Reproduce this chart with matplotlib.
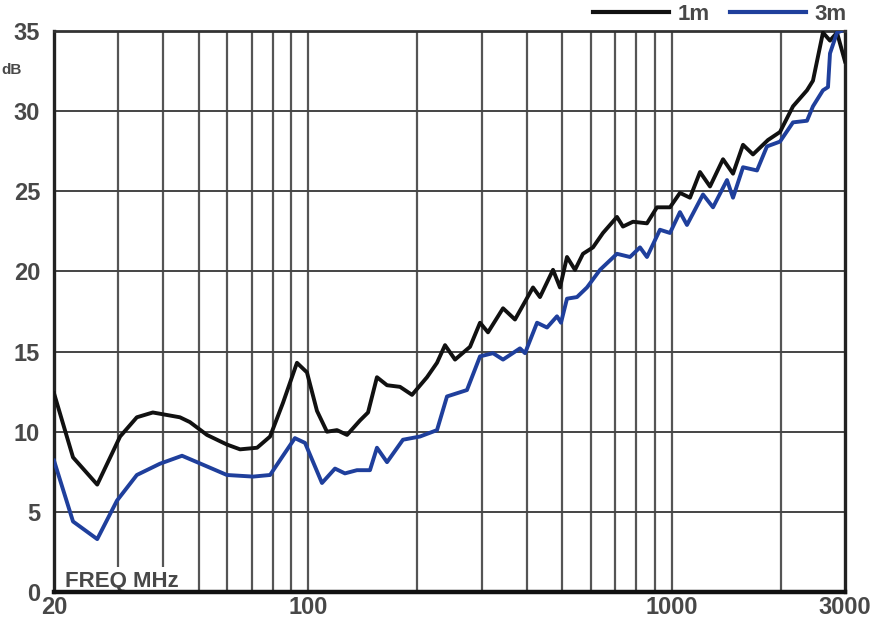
import matplotlib
matplotlib.use("Agg")
import matplotlib.pyplot as plt
from matplotlib.ticker import FixedLocator, NullLocator

plt.rcParams["font.family"] = ["Liberation Sans", "DejaVu Sans"]

# 1 m curve (frequency in MHz, level in dB)
freq_1m = [20.0, 22.56, 26.3, 30.4, 33.8, 37.4, 44.4, 47.3, 52.7, 59.8,
           65.0, 72.4, 78.6, 85.3, 93.2, 99.3, 105.8, 112.7, 120.1, 128.0,
           138.9, 146.2, 154.7, 164.9, 179.0, 193.2, 212.4, 226.3, 238.1, 253.7,
           279.0, 297.2, 312.6, 343.8, 370.9, 415.7, 434.5, 471.9, 493.2, 515.6,
           542.4, 570.5, 607.8, 647.6, 707.6, 735.0, 783.1, 855.7, 911.6, 990.0,
           1054.6, 1123.8, 1197.3, 1275.6, 1385.2, 1475.8, 1572.4, 1674.9, 1842.0, 1987.5,
           2158.0, 2358.0, 2449.0, 2609.0, 2727.9, 2851.6, 3000.0]
level_1m = [12.4, 8.4, 6.7, 9.7, 10.9, 11.2, 10.9, 10.6, 9.8, 9.2,
            8.9, 9.0, 9.7, 11.8, 14.3, 13.7, 11.3, 10.0, 10.1, 9.8,
            10.7, 11.2, 13.4, 12.9, 12.8, 12.3, 13.4, 14.3, 15.4, 14.5,
            15.3, 16.8, 16.2, 17.7, 17.0, 19.0, 18.4, 20.1, 19.0, 20.9,
            20.1, 21.1, 21.5, 22.4, 23.4, 22.8, 23.1, 23.0, 24.0, 24.0,
            24.9, 24.6, 26.2, 25.3, 27.0, 26.1, 27.9, 27.3, 28.2, 28.7,
            30.3, 31.3, 31.9, 34.9, 34.4, 34.9, 33.1]

# 3 m curve
freq_3m = [20.0, 22.56, 26.3, 29.8, 33.8, 39.1, 45.0, 49.5, 59.8, 70.6,
           78.6, 85.3, 92.0, 98.1, 109.2, 118.6, 126.3, 136.3, 148.0, 154.7,
           164.9, 182.4, 203.2, 226.3, 241.1, 273.6, 297.2, 322.7, 343.8, 382.8,
           395.2, 426.5, 454.3, 483.9, 496.4, 515.6, 549.3, 585.2, 635.5, 707.6,
           768.5, 818.7, 855.7, 929.1, 990.0, 1054.6, 1102.5, 1220.3, 1300.2, 1420.6,
           1475.8, 1572.4, 1718.0, 1830.0, 1987.5, 2158.0, 2358.0, 2449.0, 2609.0, 2693.7,
           2727.9, 2851.6, 2925.0]
level_3m = [8.2, 4.4, 3.3, 5.7, 7.3, 8.0, 8.5, 8.1, 7.3, 7.2,
            7.3, 8.5, 9.6, 9.3, 6.8, 7.7, 7.4, 7.6, 7.6, 9.0,
            8.1, 9.5, 9.7, 10.1, 12.2, 12.6, 14.7, 14.9, 14.5, 15.2,
            14.9, 16.8, 16.5, 17.2, 16.8, 18.3, 18.4, 19.0, 20.1, 21.1,
            20.9, 21.5, 20.9, 22.6, 22.4, 23.7, 22.9, 24.8, 24.0, 25.7,
            24.6, 26.5, 26.3, 27.8, 28.1, 29.3, 29.4, 30.3, 31.3, 31.5,
            33.6, 34.9, 35.0]

x_ticks = [20, 100, 1000, 3000]
x_grid = [30, 40, 50, 60, 70, 80, 90, 100, 200, 300, 400, 500, 600, 700, 800, 900, 1000, 2000]
y_ticks = [0, 5, 10, 15, 20, 25, 30, 35]

text_col = "#484848"
fig = plt.figure(figsize=(8.83, 6.30), dpi=100)
ax = fig.add_axes([54 / 883, 38 / 630, 791 / 883, 561 / 630])

ax.set_xscale("log")
ax.set_xlim(20, 3000)
ax.set_ylim(0, 35)

# grid
for g in x_grid:
    ax.axvline(g, color="#555555", lw=1.6, zorder=1)
for g in y_ticks[1:-1]:
    ax.axhline(g, color="#444444", lw=1.4, zorder=1)

ax.plot(freq_1m, level_1m, color="#111111", lw=2.8, label="1m", zorder=3,
        solid_joinstyle="round")
ax.plot(freq_3m, level_3m, color="#1f3f9c", lw=2.8, label="3m", zorder=3,
        solid_joinstyle="round")

ax.xaxis.set_major_locator(FixedLocator(x_ticks))
ax.xaxis.set_minor_locator(NullLocator())
ax.set_xticklabels([str(t) for t in x_ticks])
ax.set_yticks(y_ticks)
ax.tick_params(length=0, labelsize=17, colors=text_col)
ax.tick_params(axis="y", pad=10)
ax.tick_params(axis="x", pad=3)
for lab in ax.get_xticklabels() + ax.get_yticklabels():
    lab.set_fontweight("bold")

for side, w, c in [("left", 2.4, "#222222"), ("bottom", 3.2, "#111111"),
                   ("right", 2.4, "#222222"), ("top", 2.0, "#333333")]:
    ax.spines[side].set_linewidth(w)
    ax.spines[side].set_color(c)

ax.text(21.4, 0.3, "FREQ MHz", fontsize=16, fontweight="bold", color=text_col,
        bbox=dict(facecolor="white", edgecolor="none", pad=3), zorder=2)

fig.text(0.001, 0.882, "dB", fontsize=11, fontweight="bold", color=text_col)

leg = ax.legend(loc="center right", bbox_to_anchor=(1.016, 1.030), ncol=2, frameon=False,
                handlelength=3.4, handletextpad=0.4, columnspacing=0.9, borderpad=0,
                prop={"size": 16, "weight": "bold"})
for t in leg.get_texts():
    t.set_color(text_col)
for h in leg.get_lines():
    h.set_linewidth(3)

fig.savefig("out.png", dpi=100)
